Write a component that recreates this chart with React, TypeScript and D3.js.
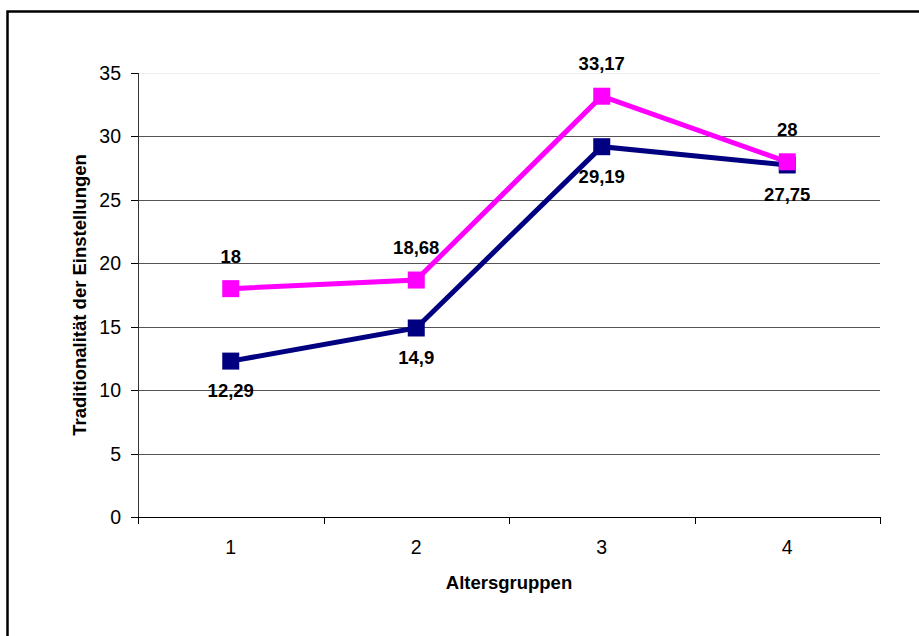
import React from "react";
import * as d3 from "d3";

const categories = ["1", "2", "3", "4"];
const seriesNavy = [12.29, 14.9, 29.19, 27.75];
const seriesPink = [18, 18.68, 33.17, 28];
const yTicks = [0, 5, 10, 15, 20, 25, 30, 35];

const W = 919;
const H = 636;
const left = 138;
const right = 880;
const top = 73;
const bottom = 517;

const fmt = (v: number) => String(v).replace(".", ",");

export default function App() {
  const x = d3.scaleBand<string>().domain(categories).range([left, right]);
  const y = d3.scaleLinear().domain([0, 35]).range([bottom, top]);
  const cx = (c: string) => (x(c) as number) + x.bandwidth() / 2;

  const line = d3
    .line<number>()
    .x((_, i) => cx(categories[i]))
    .y((d) => y(d));

  const font = "'Liberation Sans', Arial, sans-serif";
  const boundaries = [left, ...categories.map((c) => (x(c) as number) + x.bandwidth())];

  const series = [
    { values: seriesNavy, color: "#000080", labelDy: 36 },
    { values: seriesPink, color: "#FF00FF", labelDy: -26 },
  ];

  return (
    <svg
      width={W}
      height={H}
      style={{ position: "absolute", left: 0, top: 0, background: "#fff" }}
      fontFamily={font}
    >
      <rect x={7.5} y={11.5} width={W} height={H} fill="none" stroke="#000" strokeWidth={2.5} />

      {/* horizontal gridlines */}
      {yTicks.slice(1).map((t) => (
        <line
          key={t}
          x1={left}
          x2={right}
          y1={Math.round(y(t)) + 0.5}
          y2={Math.round(y(t)) + 0.5}
          stroke={t === 35 ? "#eeeeee" : "#555"}
          strokeWidth={1}
        />
      ))}

      {/* y axis */}
      <line x1={left + 0.5} x2={left + 0.5} y1={top} y2={bottom} stroke="#333" />
      {yTicks.map((t) => (
        <g key={t}>
          <line
            x1={left - 7}
            x2={left}
            y1={Math.round(y(t)) + 0.5}
            y2={Math.round(y(t)) + 0.5}
            stroke="#000"
          />
          <text
            x={left - 17}
            y={y(t)}
            dy="0.36em"
            textAnchor="end"
            fontSize={19.5}
            fill="#000"
          >
            {t}
          </text>
        </g>
      ))}

      {/* x axis */}
      <line x1={left} x2={right} y1={bottom + 0.5} y2={bottom + 0.5} stroke="#000" />
      {boundaries.map((b, i) => (
        <line
          key={i}
          x1={Math.round(b) + 0.5}
          x2={Math.round(b) + 0.5}
          y1={bottom}
          y2={bottom + 7}
          stroke="#000"
        />
      ))}
      {categories.map((c) => (
        <text key={c} x={cx(c)} y={554} textAnchor="middle" fontSize={19.5} fill="#000">
          {c}
        </text>
      ))}

      {/* axis titles */}
      <text x={509} y={589} textAnchor="middle" fontSize={18.5} fontWeight="bold" fill="#000">
        Altersgruppen
      </text>
      <text
        transform={`translate(86, ${(top + bottom) / 2}) rotate(-90)`}
        textAnchor="middle"
        fontSize={18.5}
        fontWeight="bold"
        fill="#000"
      >
        Traditionalität der Einstellungen
      </text>

      {/* series */}
      {series.map((s, si) => (
        <g key={si}>
          <path d={line(s.values) || ""} fill="none" stroke={s.color} strokeWidth={5} />
          {s.values.map((v, i) => (
            <rect
              key={i}
              x={cx(categories[i]) - 8.5}
              y={y(v) - 8.5}
              width={17}
              height={17}
              fill={s.color}
            />
          ))}
        </g>
      ))}
      {series.map((s, si) =>
        s.values.map((v, i) => (
          <text
            key={`${si}-${i}`}
            x={cx(categories[i])}
            y={y(v) + s.labelDy}
            textAnchor="middle"
            fontSize={18.5}
            fontWeight="bold"
            fill="#000"
          >
            {fmt(v)}
          </text>
        ))
      )}
    </svg>
  );
}
